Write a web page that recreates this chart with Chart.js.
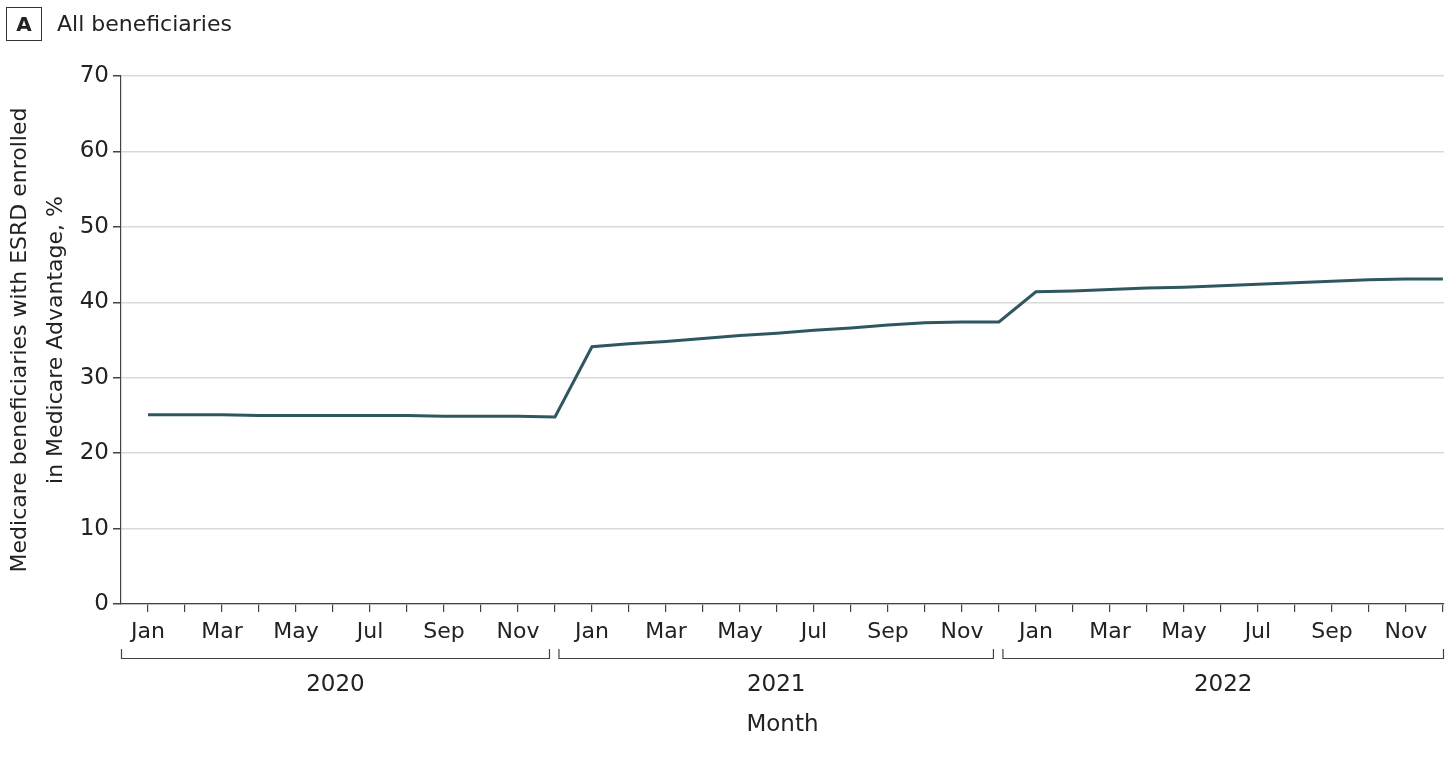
<!DOCTYPE html>
<html lang="en">
<head>
<meta charset="UTF-8">
<title>ESRD Medicare Advantage</title>
<script src="https://cdn.jsdelivr.net/npm/chart.js"></script>
<style>
  body { margin: 0; background: #fff; font-family: "DejaVu Sans", sans-serif; }
  .wrap { position: relative; width: 1450px; height: 759px; }
  .panel { position: absolute; left: 6px; top: 7px; width: 34px; height: 32px; border: 1.5px solid #333;
           font: bold 20px "DejaVu Sans", sans-serif; color: #222; text-align: center; line-height: 32px; }
  .head { position: absolute; left: 57px; top: 7px; font-size: 22px; color: #222; line-height: 34px; }
  canvas { position: absolute; left: 0; top: 0; }
</style>
</head>
<body>
<div class="wrap">
  <canvas id="grafico" width="1450" height="759"></canvas>
  <div class="panel">A</div>
  <div class="head">All beneficiaries</div>
</div>
<script>
  const FONTE = '"DejaVu Sans", sans-serif';

  const meses = ["Jan", "Feb", "Mar", "Apr", "May", "Jun", "Jul", "Aug", "Sep", "Oct", "Nov", "Dec"];
  const anos = ["2020", "2021", "2022"];

  const valores2020 = [25.1, 25.1, 25.1, 25.0, 25.0, 25.0, 25.0, 25.0, 24.9, 24.9, 24.9, 24.8];
  const valores2021 = [34.1, 34.5, 34.8, 35.2, 35.6, 35.9, 36.3, 36.6, 37.0, 37.3, 37.4, 37.4];
  const valores2022 = [41.4, 41.5, 41.7, 41.9, 42.0, 42.2, 42.4, 42.6, 42.8, 43.0, 43.1, 43.1];

  const yTicks = [0, 10, 20, 30, 40, 50, 60, 70];

  const todos = [...valores2020, ...valores2021, ...valores2022];
  const pontos = todos.map((v, i) => ({ x: i, y: v }));

  // colchetes dos anos + titulo "Month"
  const anosPlugin = {
    id: "anos",
    afterDraw(chart) {
      const ctx = chart.ctx;
      const x = chart.scales.x;
      ctx.save();
      ctx.strokeStyle = "#444";
      ctx.lineWidth = 1.2;
      ctx.fillStyle = "#222";
      ctx.font = "23px " + FONTE;
      ctx.textAlign = "center";
      ctx.textBaseline = "middle";
      anos.forEach((ano, k) => {
        let x0 = k === 0 ? x.left : x.getPixelForValue(k * 12 - 1) + 3.5;
        let x1 = x.getPixelForValue(k * 12 + 11) - 5;
        if (k === anos.length - 1) x1 = x.right;
        ctx.beginPath();
        ctx.moveTo(x0 + 0.5, 649);
        ctx.lineTo(x0 + 0.5, 658.5);
        ctx.lineTo(x1 - 0.5, 658.5);
        ctx.lineTo(x1 - 0.5, 649);
        ctx.stroke();
        ctx.fillText(ano, (x0 + x1) / 2, 685);
      });
      ctx.fillText("Month", (x.left + x.right) / 2, 725);
      ctx.restore();
    }
  };

  new Chart(document.getElementById("grafico"), {
    type: "line",
    data: {
      datasets: [{
        data: pontos,
        borderColor: "#2f5761",
        borderWidth: 3,
        pointRadius: 0,
        tension: 0,
        fill: false
      }]
    },
    options: {
      responsive: false,
      animation: false,
      layout: { padding: { top: 76, right: 6, left: 0, bottom: 0 } },
      plugins: { legend: { display: false }, tooltip: { enabled: false } },
      scales: {
        x: {
          type: "linear",
          min: -0.73,
          max: 35.03,
          afterBuildTicks(scale) {
            scale.ticks = todos.map((v, i) => ({ value: i }));
          },
          afterFit(scale) { scale.height = 155; },
          ticks: {
            autoSkip: false,
            maxRotation: 0,
            padding: 7,
            color: "#222",
            font: { family: FONTE, size: 22 },
            callback: (v) => (v % 2 === 0 ? meses[v % 12] : "")
          },
          grid: { drawOnChartArea: false, tickLength: 8, tickColor: "#444", lineWidth: 1.2 },
          border: { color: "#444", width: 1.2 }
        },
        y: {
          min: 0,
          max: 70,
          afterBuildTicks(scale) {
            scale.ticks = yTicks.map(v => ({ value: v }));
          },
          afterFit(scale) { scale.width = 121; },
          ticks: { color: "#222", padding: 4, font: { family: FONTE, size: 23 } },
          grid: { color: "#d9d9d9", lineWidth: 1.5, tickLength: 8, tickColor: "#444" },
          border: { color: "#444", width: 1.2 },
          title: {
            display: true,
            text: ["Medicare beneficiaries with ESRD enrolled", "in Medicare Advantage, %"],
            color: "#222",
            font: { family: FONTE, size: 22, lineHeight: 1.65 },
            padding: { top: 2, bottom: 0 }
          }
        }
      }
    },
    plugins: [anosPlugin]
  });
</script>
</body>
</html>
